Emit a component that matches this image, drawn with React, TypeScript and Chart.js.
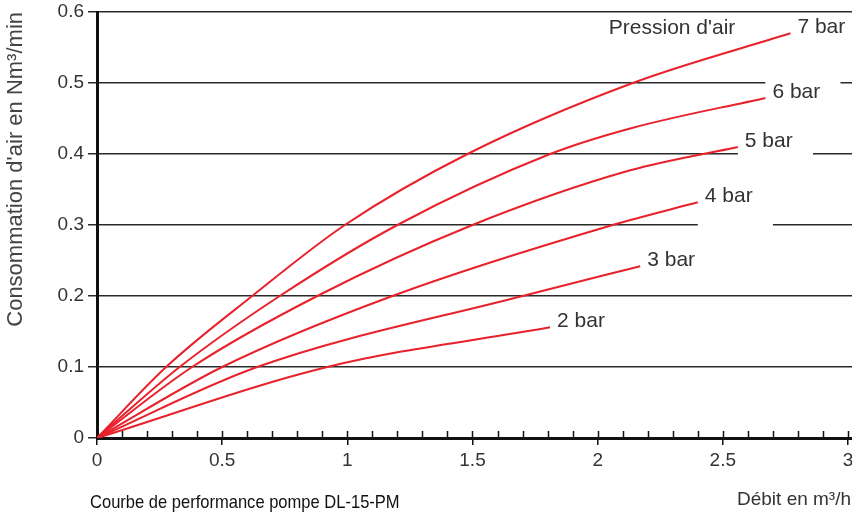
import React, { useEffect, useRef } from 'react';
import { Chart, registerables } from 'chart.js';

Chart.register(...registerables);

// Series: air pressure curves (x = Débit m³/h, y = consommation Nm³/min)
const seriesNames = ['2 bar', '3 bar', '4 bar', '5 bar', '6 bar', '7 bar'];
const bar2X = [0, 0.92, 1.81];
const bar2Y = [0, 0.1, 0.156];
const bar3X = [0, 0.64, 1.7, 2.17];
const bar3Y = [0, 0.1, 0.2, 0.242];
const bar4X = [0, 0.5, 1.18, 2.06, 2.4];
const bar4Y = [0, 0.1, 0.2, 0.3, 0.332];
const bar5X = [0, 0.38, 0.88, 1.5, 2.13, 2.56];
const bar5Y = [0, 0.1, 0.2, 0.3, 0.377, 0.41];
const bar6X = [0, 0.33, 0.73, 1.2, 1.81, 2.13, 2.67];
const bar6Y = [0, 0.1, 0.2, 0.3, 0.4, 0.436, 0.479];
const bar7X = [0, 0.276, 0.62, 0.99, 1.48, 2.14, 2.77];
const bar7Y = [0, 0.1, 0.2, 0.3, 0.4, 0.5, 0.57];

const xTickValues = [0, 0.5, 1, 1.5, 2, 2.5, 3];
const xTickLabels = ['0', '0.5', '1', '1.5', '2', '2.5', '3'];
const yTickValues = [0, 0.1, 0.2, 0.3, 0.4, 0.5, 0.6];
const yTickLabels = ['0', '0.1', '0.2', '0.3', '0.4', '0.5', '0.6'];

const chartTitle = 'Courbe de performance pompe DL-15-PM';
const xTitle = 'Débit en m³/h';
const yTitle = "Consommation d'air en Nm³/min";
const legendTitle = "Pression d'air";

const xsList = [bar2X, bar3X, bar4X, bar5X, bar6X, bar7X];
const ysList = [bar2Y, bar3Y, bar4Y, bar5Y, bar6Y, bar7Y];

const FONT = '"Liberation Sans", Arial, sans-serif';
const RED = '#e8212b';
const GRID = '#2a2a2a';

const overlayPlugin = {
  id: 'overlay',
  beforeDatasetsDraw(chart: any) {
    const { ctx, chartArea, scales } = chart;
    const x = scales.x;
    const y = scales.y;
    ctx.save();
    // gaps in the grid lines where label boxes sit
    const gaps = [
      { v: 0.5, x0: 2.67, x1: 2.97 },
      { v: 0.4, x0: 2.56, x1: 2.86 },
      { v: 0.3, x0: 2.4, x1: 2.7 },
    ];
    ctx.fillStyle = '#ffffff';
    gaps.forEach((g) => {
      const py = y.getPixelForValue(g.v);
      const px0 = x.getPixelForValue(g.x0);
      const px1 = x.getPixelForValue(g.x1);
      ctx.fillRect(px0, py - 3, px1 - px0, 6);
    });
    // upward minor ticks on x axis
    ctx.strokeStyle = '#111';
    ctx.lineWidth = 1.5;
    x.ticks.forEach((t: any) => {
      const px = Math.round(x.getPixelForValue(t.value)) + 0.5;
      ctx.beginPath();
      ctx.moveTo(px, chartArea.bottom);
      ctx.lineTo(px, chartArea.bottom - 7);
      ctx.stroke();
    });
    ctx.restore();
  },
  afterDatasetsDraw(chart: any) {
    const { ctx, scales } = chart;
    const x = scales.x;
    const y = scales.y;
    ctx.save();
    ctx.font = '21px ' + FONT;
    ctx.fillStyle = '#333';
    ctx.textBaseline = 'middle';
    ctx.textAlign = 'left';
    seriesNames.forEach((name, i) => {
      const xs = xsList[i];
      const ys = ysList[i];
      const px = x.getPixelForValue(xs[xs.length - 1]);
      const py = y.getPixelForValue(ys[ys.length - 1]);
      ctx.fillText(name, px + 7, py - 6);
    });
    ctx.textAlign = 'right';
    ctx.fillText(legendTitle, x.getPixelForValue(2.55), y.getPixelForValue(0.577));
    ctx.restore();
  },
  afterDraw(chart: any) {
    const { ctx } = chart;
    ctx.save();
    ctx.textBaseline = 'middle';
    ctx.textAlign = 'left';
    ctx.font = '19px ' + FONT;
    ctx.fillStyle = '#111';
    ctx.translate(90, 503);
    ctx.scale(0.87, 1);
    ctx.fillText(chartTitle, 0, 0);
    ctx.setTransform(1, 0, 0, 1, 0, 0);
    ctx.font = '19px ' + FONT;
    ctx.fillStyle = '#333';
    ctx.fillText(xTitle, 737, 500);
    ctx.restore();
  },
};

export default function App() {
  const canvasRef = useRef<HTMLCanvasElement | null>(null);

  useEffect(() => {
    const canvas = canvasRef.current;
    if (!canvas) return;
    const datasets = seriesNames.map((name, i) => ({
      label: name,
      data: xsList[i].map((xv, j) => ({ x: xv, y: ysList[i][j] })),
      borderColor: RED,
      backgroundColor: RED,
      borderWidth: 2,
      pointRadius: 0,
      fill: false,
      cubicInterpolationMode: 'monotone' as const,
    }));

    const chart = new Chart(canvas, {
      type: 'line',
      data: { datasets },
      plugins: [overlayPlugin],
      options: {
        animation: false,
        responsive: false,
        maintainAspectRatio: false,
        layout: { padding: { top: 12, left: 0, right: 0, bottom: 0 } },
        plugins: {
          legend: { display: false },
          tooltip: { enabled: false },
          title: { display: false },
        },
        scales: {
          x: {
            type: 'linear',
            min: 0,
            max: 3.016,
            afterBuildTicks: (scale: any) => {
              const arr: any[] = [];
              for (let i = 0; i <= 30; i++) arr.push({ value: i / 10 });
              scale.ticks = arr;
            },
            afterFit: (scale: any) => {
              scale.height = 82;
              scale.paddingLeft = 0;
              scale.paddingRight = 0;
            },
            grid: {
              drawOnChartArea: false,
              drawTicks: true,
              tickLength: 7,
              lineWidth: 1.5,
              color: (c: any) => {
                const v = c.tick ? c.tick.value : 0;
                return xTickValues.some((t) => Math.abs(t - v) < 1e-6) ? '#111' : 'rgba(0,0,0,0)';
              },
            },
            border: { display: true, color: '#111', width: 3 },
            ticks: {
              autoSkip: false,
              maxRotation: 0,
              padding: 4,
              color: '#333',
              font: { family: FONT, size: 19 },
              callback: (v: any) => {
                const idx = xTickValues.findIndex((t) => Math.abs(t - Number(v)) < 1e-6);
                return idx >= 0 ? xTickLabels[idx] : '';
              },
            },
          },
          y: {
            type: 'linear',
            min: 0,
            max: 0.6,
            afterBuildTicks: (scale: any) => {
              scale.ticks = yTickValues.map((v) => ({ value: v }));
            },
            afterFit: (scale: any) => {
              scale.width = 97;
              scale.paddingTop = 0;
              scale.paddingBottom = 0;
            },
            grid: {
              color: GRID,
              lineWidth: 1.5,
              drawTicks: true,
              tickLength: 9,
            },
            border: { display: true, color: '#111', width: 3 },
            title: {
              display: true,
              text: yTitle,
              align: 'end',
              color: '#444',
              font: { family: FONT, size: 22 },
              padding: { top: 3, bottom: 0 },
            },
            ticks: {
              padding: 4,
              color: '#333',
              font: { family: FONT, size: 19 },
              callback: (v: any) => {
                const idx = yTickValues.findIndex((t) => Math.abs(t - Number(v)) < 1e-6);
                return idx >= 0 ? yTickLabels[idx] : '';
              },
            },
          },
        },
      },
    });
    return () => chart.destroy();
  }, []);

  return (
    <div style={{ position: 'absolute', left: 0, top: 0, width: 852, height: 520, background: '#fff' }}>
      <canvas ref={canvasRef} width={852} height={520} style={{ display: 'block', width: 852, height: 520 }} />
    </div>
  );
}
